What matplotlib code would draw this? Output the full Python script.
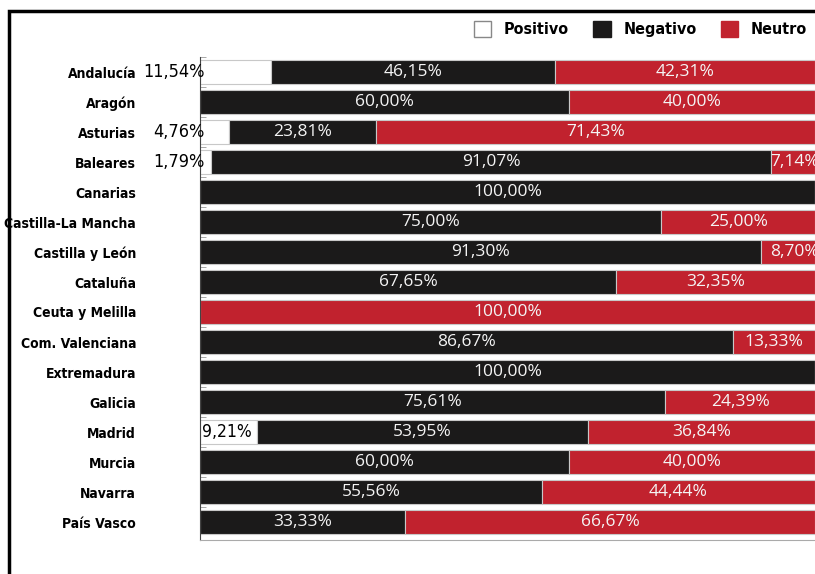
import matplotlib
matplotlib.use("Agg")
import matplotlib.pyplot as plt
from matplotlib.patches import Rectangle, Patch

regiones = ["Andalucía", "Aragón", "Asturias", "Baleares", "Canarias",
            "Castilla-La Mancha", "Castilla y León", "Cataluña", "Ceuta y Melilla",
            "Com. Valenciana", "Extremadura", "Galicia", "Madrid", "Murcia",
            "Navarra", "País Vasco"]
positivo = [11.54, 0, 4.76, 1.79, 0, 0, 0, 0, 0, 0, 0, 0, 9.21, 0, 0, 0]
negativo = [46.15, 60.00, 23.81, 91.07, 100.00, 75.00, 91.30, 67.65, 0,
            86.67, 100.00, 75.61, 53.95, 60.00, 55.56, 33.33]
neutro = [42.31, 40.00, 71.43, 7.14, 0, 25.00, 8.70, 32.35, 100.00,
          13.33, 0, 24.39, 36.84, 40.00, 44.44, 66.67]

negro = "#1b1a1a"
rojo = "#c1222e"
borde = "#c8c8c8"
fuente_num = ["Open Sans", "DejaVu Sans"]

def fmt(v):
    return f"{v:.2f}%".replace(".", ",")

fig = plt.figure(figsize=(8.15, 5.74), dpi=100)
ax = fig.add_axes([200/815, 1-540/574, 1-200/815, (540-57)/574])

y = list(range(len(regiones)))
h = 0.77
ax.barh(y, positivo, height=h, color="white", edgecolor=borde, linewidth=0.8)
ax.barh(y, negativo, left=positivo, height=h, color=negro, edgecolor=borde, linewidth=0.8)
izq = [p + n for p, n in zip(positivo, negativo)]
ax.barh(y, neutro, left=izq, height=h, color=rojo, edgecolor=borde, linewidth=0.8)

for i in y:
    p, n, r = positivo[i], negativo[i], neutro[i]
    if p > 0:
        if regiones[i] == "Madrid":
            ax.text(0.3, i, fmt(p), ha="left", va="center", color="black",
                    fontsize=12.5, family="DejaVu Sans", fontstretch="condensed")
        else:
            ax.text(0.8, i, fmt(p), ha="right", va="center", color="black",
                    fontsize=13, family="DejaVu Sans", fontstretch="condensed",
                    clip_on=False)
    if n > 0:
        ax.text(p + n / 2, i, fmt(n), ha="center", va="center", color="#f4f4f4",
                fontsize=12.5, family=fuente_num)
    if r > 0:
        if r < 10:
            ax.text(100.6, i, fmt(r), ha="right", va="center", color="#f4f4f4",
                    fontsize=12.5, family=fuente_num)
        else:
            ax.text(p + n + r / 2, i, fmt(r), ha="center", va="center", color="#f4f4f4",
                    fontsize=12.5, family=fuente_num)

ax.set_xlim(0, 100)
ax.set_ylim(15.6, -0.5)
ax.set_yticks(y)
ax.set_yticklabels(regiones, family="DejaVu Sans", fontstretch="condensed",
                   fontsize=10, fontweight="bold")
ax.set_yticks([i - 0.5 for i in y], minor=True)
ax.tick_params(axis="y", which="major", length=0, pad=46)
ax.tick_params(axis="y", which="minor", direction="in", length=4, color="#999999")
ax.set_xticks([])
for s in ["top", "right"]:
    ax.spines[s].set_visible(False)
ax.spines["left"].set_color("#444444")
ax.spines["bottom"].set_color("#aaaaaa")

handles = [Patch(facecolor="white", edgecolor="#888888", label="Positivo"),
           Patch(facecolor=negro, edgecolor=negro, label="Negativo"),
           Patch(facecolor=rojo, edgecolor=rojo, label="Neutro")]
fig.legend(handles=handles, loc="upper right", bbox_to_anchor=(1.008, 0.988), ncol=3,
           frameon=False,
           prop={"family": "DejaVu Sans", "stretch": "condensed", "size": 11.5, "weight": "bold"},
           handlelength=1.1, handleheight=1.1, columnspacing=1.5, handletextpad=0.8)

fig.patches.append(Rectangle((9/815, -0.1), 1.2, 1.1 - 11/574, transform=fig.transFigure,
                             fill=False, edgecolor="black", linewidth=2.5))

fig.savefig("out.png", dpi=100)
